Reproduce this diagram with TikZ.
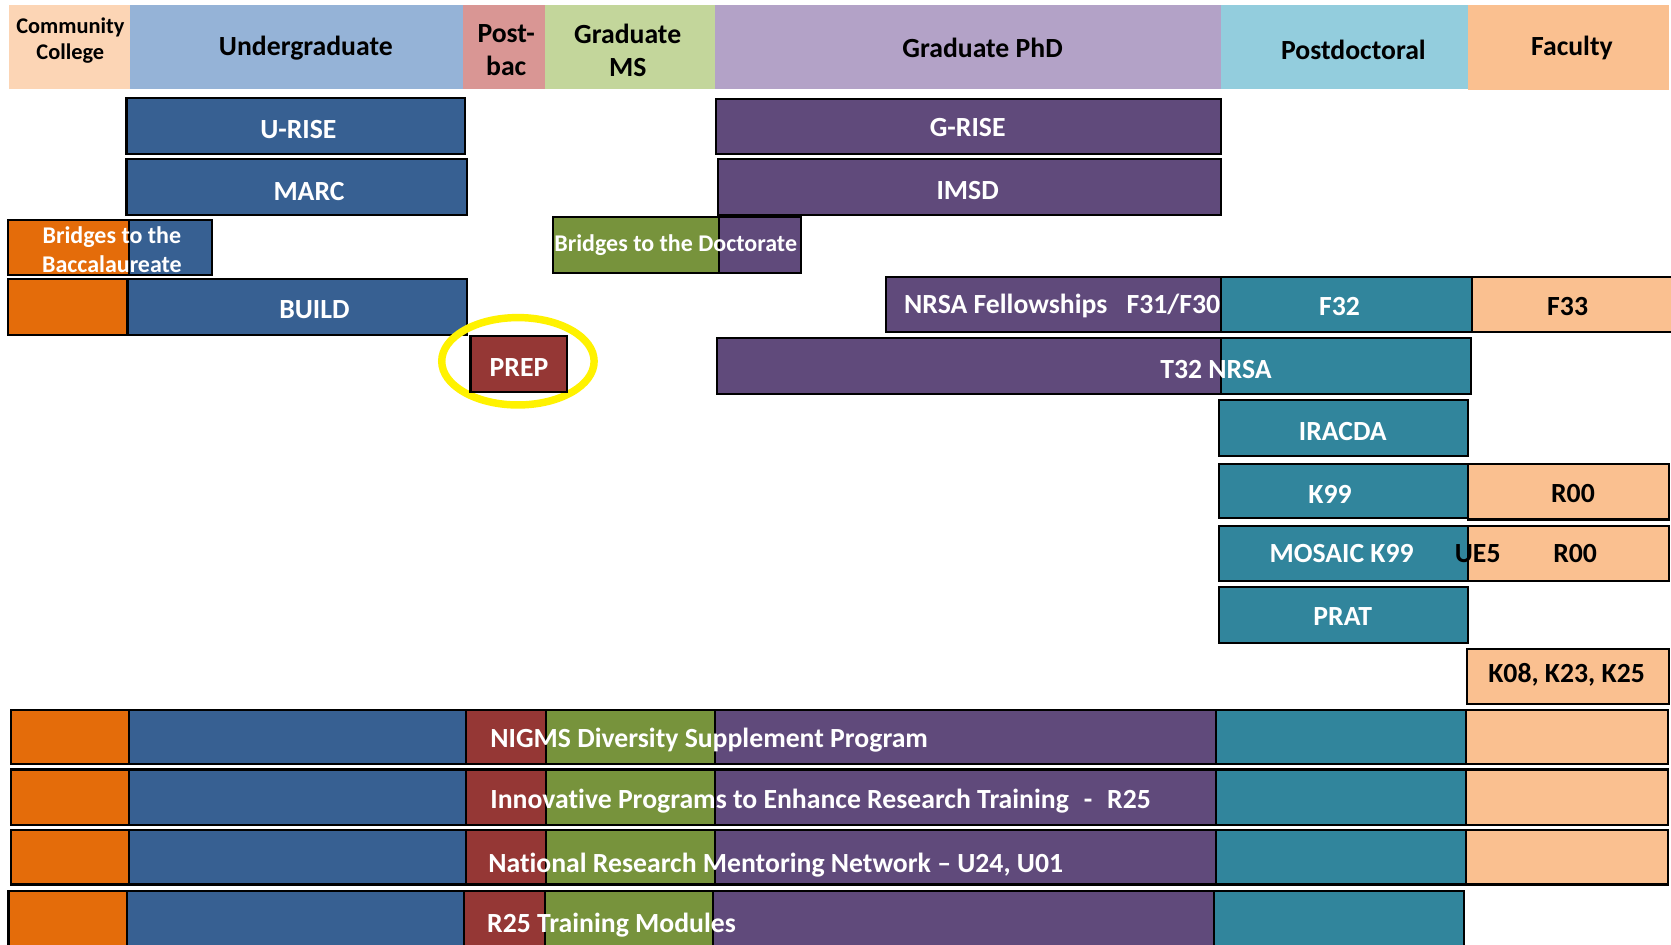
\documentclass[tikz,border=0pt]{standalone}
\usepackage{fontspec}
\setmainfont{Carlito}[Ligatures=NoCommon]
\usetikzlibrary{fit,shapes.geometric}
\definecolor{hCC}{HTML}{FCD5B5}
\definecolor{hUG}{HTML}{95B3D7}
\definecolor{hPB}{HTML}{D99694}
\definecolor{hMS}{HTML}{C3D69B}
\definecolor{hPhD}{HTML}{B3A2C7}
\definecolor{hPD}{HTML}{93CDDD}
\definecolor{hFac}{HTML}{FAC090}
\definecolor{cOr}{HTML}{E46C0A}
\definecolor{cBl}{HTML}{376092}
\definecolor{cRd}{HTML}{953735}
\definecolor{cGr}{HTML}{77933C}
\definecolor{cPu}{HTML}{604A7B}
\definecolor{cTe}{HTML}{31859C}
\definecolor{cPe}{HTML}{FAC090}
\tikzset{
  hdr/.style={inner sep=0pt, outer sep=0pt},
  htxt/.style={inner sep=0pt, align=center, text=black, font=\bfseries\fontsize{26}{31}\selectfont},
  seg/.style={draw=black, line width=2pt, inner sep=0pt, outer sep=0pt},
  lbl/.style={inner sep=0pt, yshift=-1.5pt, text=white, font=\bfseries\fontsize{26}{30}\selectfont},
  dlbl/.style={lbl, text=black},
  slbl/.style={inner sep=0pt, text=white, align=center, font=\bfseries\fontsize{22.5}{27}\selectfont},
  ring/.style={draw=yellow, line width=7pt, ellipse, inner sep=0pt}
}
\begin{document}
\begin{tikzpicture}[x=1pt,y=-1pt]
\clip (0,0) rectangle (1568,886);
\fill[white] (0,0) rectangle (1568,886);
% header
\node[hdr, fill=hCC,  fit={(8.6,4.7) (122,83.5)}] (hcc) {};
\node[hdr, fill=hUG,  fit={(122,4.7) (434.2,83.5)}] (hug) {};
\node[hdr, fill=hPB,  fit={(434.2,4.7) (511.3,83.5)}] (hpb) {};
\node[hdr, fill=hMS,  fit={(511.3,4.7) (670.7,83.5)}] (hms) {};
\node[hdr, fill=hPhD, fit={(670.7,4.7) (1145.5,83.5)}] (hphd) {};
\node[hdr, fill=hPD,  fit={(1145.5,4.7) (1377.8,83.5)}] (hpd) {};
\node[hdr, fill=hFac, fit={(1377.8,4.7) (1566.5,84)}] (hfac) {};
\node[htxt, font=\bfseries\fontsize{21}{25}\selectfont] (tcc) at (66,38) {Community\\College};
\node[htxt] (tug) at (287,45) {Undergraduate};
\node[htxt] (tpb) at (475,47) {Post-\\bac};
\node[htxt] (tms) at (589,47) {Graduate\\MS};
\node[htxt] (tphd) at (922,45) {Graduate PhD};
\node[htxt] (tpd) at (1270,47) {Postdoctoral};
\node[htxt] (tfac) at (1475,45) {Faculty};
% upper program boxes
\node[seg, fill=cBl, fit={(118.7,91.6) (436.6,144.5)}] (urise) {};
\node[lbl] (turise) at (280,120) {U-RISE};
\node[seg, fill=cBl, fit={(118.7,149.2) (438,201.6)}] (marc) {};
\node[lbl] (tmarc) at (290,178) {MARC};
\node[seg, fill=cPu, fit={(672,92.9) (1145.7,144.8)}] (grise) {};
\node[lbl] (tgrise) at (908,118) {G-RISE};
\node[seg, fill=cPu, fit={(674,149.2) (1145.7,201.7)}] (imsd) {};
\node[lbl] (timsd) at (908,177) {IMSD};
% bridges bacc
\node[seg, fill=cOr, fit={(7.2,206.4) (121.1,258)}] (bbo) {};
\node[seg, fill=cBl, fit={(121.1,206.4) (199.2,258)}] (bbb) {};
\node[slbl] (tbb) at (105,234) {Bridges to the\\Baccalaureate};
% bridges doctorate
\node[seg, fill=cGr, fit={(519,203.3) (675,255.9)}] (bdg) {};
\node[seg, fill=cPu, fit={(675,203.3) (752,255.9)}] (bdp) {};
\node[slbl, anchor=west] (tbd) at (520,230) {Bridges to the Doctorate};
% BUILD
\node[seg, fill=cOr, fit={(7.2,261.8) (119.7,314)}] (buo) {};
\node[seg, fill=cBl, fit={(119.7,261.8) (438,314)}] (bub) {};
\node[lbl] (tbuild) at (295,289) {BUILD};
% NRSA fellowships
\node[seg, fill=cPu, fit={(831.4,259.6) (1146,311.8)}] (nrsa) {};
\node[seg, fill=cTe, fit={(1146,259.6) (1381.3,311.8)}] (f32) {};
\node[seg, fill=cPe, fit={(1381.3,259.6) (1570,311.8)}] (f33) {};
\node[lbl, anchor=east] (tnrsa) at (1145,286) {NRSA Fellowships\hspace{18pt}F31/F30};
\node[lbl] (tf32) at (1257,286) {F32};
\node[dlbl] (tf33) at (1471,286) {F33};
% PREP
\node[ring, minimum width=143pt, minimum height=82pt] (ring) at (486,339) {};
\node[seg, fill=cRd, fit={(441.5,315.3) (532,367.5)}] (prep) {};
\node[lbl] (tprep) at (487,343) {PREP};
% T32
\node[seg, fill=cPu, fit={(672.6,316.9) (1145.7,370)}] (t32p) {};
\node[seg, fill=cTe, fit={(1145.7,316.9) (1380.4,370)}] (t32t) {};
\node[lbl] (tt32) at (1141,345) {T32 NRSA};
% postdoc boxes
\node[seg, fill=cTe, fit={(1143.6,375.3) (1377.8,427.9)}] (iracda) {};
\node[lbl] (tiracda) at (1260,403) {IRACDA};
\node[seg, fill=cTe, fit={(1143.6,435.4) (1377.8,486.4)}] (k99) {};
\node[seg, fill=cPe, fit={(1377.8,435.4) (1566,487.5)}] (r00a) {};
\node[lbl] (tk99) at (1248,462) {K99};
\node[dlbl] (tr00a) at (1476,462) {R00};
\node[seg, fill=cTe, fit={(1143.6,493.3) (1377.8,545.2)}] (mosaic) {};
\node[seg, fill=cPe, fit={(1377.8,493.3) (1566,545.2)}] (r00b) {};
\node[lbl] (tmosaic) at (1259,518) {MOSAIC K99};
\node[dlbl, anchor=west] (tue5) at (1365,518) {UE5};
\node[dlbl] (tr00b) at (1478,518) {R00};
\node[seg, fill=cTe, fit={(1143.6,551) (1377.8,603)}] (prat) {};
\node[lbl] (tprat) at (1260,577) {PRAT};
\node[seg, fill=cPe, fit={(1376.2,609) (1566,660.6)}] (k08) {};
\node[dlbl] (tk08) at (1470,632) {K08, K23, K25};
% bottom rows
\foreach \r/\ya/\yb in {1/666/717, 2/722/774, 3/779/830} {
  \foreach \c/\xa/\xb [count=\i] in {cOr/10/121, cBl/121/437, cRd/437/512, cGr/512/671, cPu/671/1141, cTe/1141/1376, cPe/1376/1565} {
    \node[seg, fill=\c, fit={(\xa,\ya) (\xb,\yb)}] (r\r-\i) {};
  }
}
\foreach \c/\xa/\xb [count=\i] in {cOr/8/119, cBl/119/435, cRd/435/511, cGr/511/669, cPu/669/1139, cTe/1139/1374} {
  \node[seg, fill=\c, fit={(\xa,836) (\xb,900)}] (r4-\i) {};
}
\node[lbl, anchor=west] (tr1) at (460,693) {NIGMS Diversity Supplement Program};
\node[lbl, anchor=west] (tr2) at (460,750) {Innovative Programs to Enhance Research Training\hspace{14pt}-\hspace{14pt}R25};
\node[lbl, anchor=west] (tr3) at (458,810) {National Research Mentoring Network – U24, U01};
\node[lbl, anchor=west] (tr4) at (457,867) {R25 Training Modules};
\end{tikzpicture}
\end{document}
